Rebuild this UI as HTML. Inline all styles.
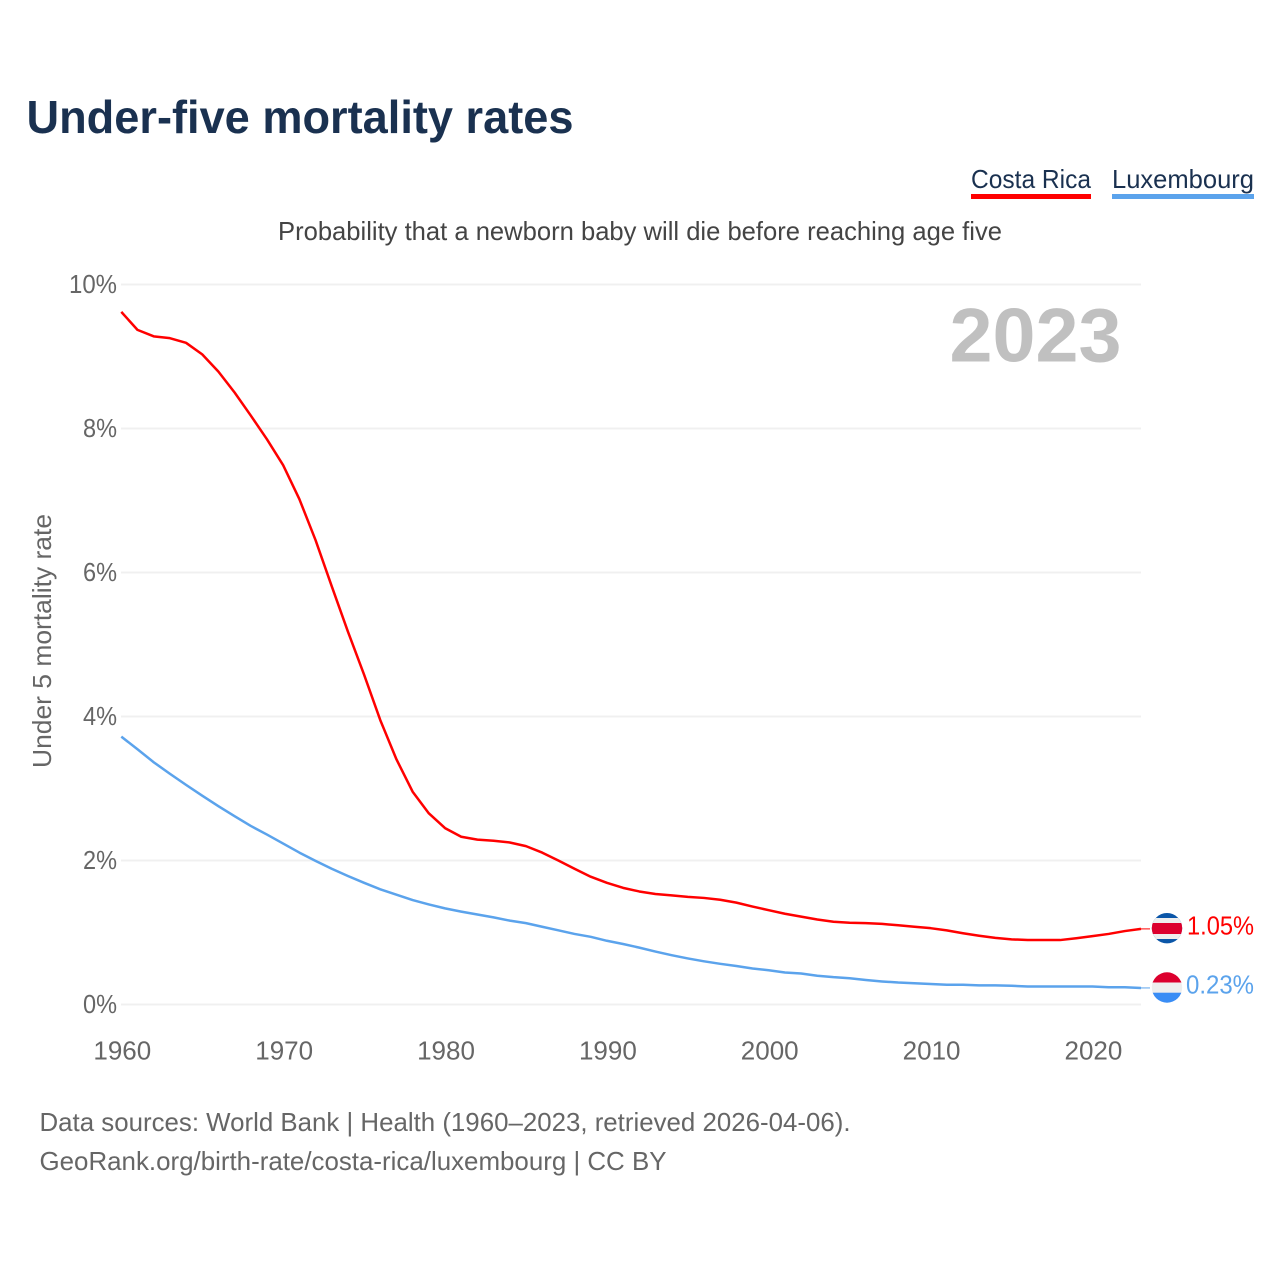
<!DOCTYPE html>
<html lang="en">
<head>
<meta charset="utf-8">
<title>Under-five mortality rates</title>
<style>
html,body{margin:0;padding:0;background:#fff;width:1280px;height:1280px;overflow:hidden}
svg{display:block}
text{font-family:"Liberation Sans",Arial,sans-serif}
</style>
</head>
<body>
<svg id="chart" xmlns="http://www.w3.org/2000/svg" width="1280" height="1280" viewBox="0 0 1280 1280">
  <rect x="0" y="0" width="1280" height="1280" fill="#ffffff"/>
  <text x="26.5" y="133" font-size="46" font-weight="700" fill="#1a3150" textLength="547" lengthAdjust="spacingAndGlyphs">Under-five mortality rates</text>
  <g>
    <text x="971" y="188" font-size="26" fill="#1a3150" textLength="120" lengthAdjust="spacingAndGlyphs">Costa Rica</text>
    <rect x="971" y="194" width="120" height="5" fill="#ff0000"/>
  </g>
  <g>
    <text x="1112" y="188" font-size="26" fill="#1a3150" textLength="142" lengthAdjust="spacingAndGlyphs">Luxembourg</text>
    <rect x="1112" y="194" width="142" height="5" fill="#5ba3ec"/>
  </g>
  <text x="278" y="240" font-size="26" fill="#444444" textLength="724" lengthAdjust="spacingAndGlyphs">Probability that a newborn baby will die before reaching age five</text>
  <text transform="translate(51 641) rotate(-90)" text-anchor="middle" font-size="26" fill="#666666" textLength="254" lengthAdjust="spacingAndGlyphs">Under 5 mortality rate</text>
  <g id="grid"></g>
  <g id="yticks"></g>
  <g id="xticks"></g>
  <text x="1121.5" y="361.5" text-anchor="end" font-size="76" font-weight="700" fill="#c0c0c0" textLength="172" lengthAdjust="spacingAndGlyphs">2023</text>
  <g id="series"></g>
  <clipPath id="cr-clip"><circle cx="1167" cy="928.2" r="15.2"/></clipPath>
  <clipPath id="lu-clip"><circle cx="1167" cy="987.5" r="15.2"/></clipPath>
  <g clip-path="url(#cr-clip)">
    <rect x="1150" y="912" width="34" height="33" fill="#0b56a8"/>
    <rect x="1150" y="918" width="34" height="21" fill="#eeeeee"/>
    <rect x="1150" y="923" width="34" height="11" fill="#dc002e"/>
  </g>
  <g clip-path="url(#lu-clip)">
    <rect x="1150" y="971" width="34" height="12" fill="#dc002e"/>
    <rect x="1150" y="982.5" width="34" height="10.5" fill="#eeeeee"/>
    <rect x="1150" y="992.7" width="34" height="12" fill="#3a8df5"/>
  </g>
  <text x="1187" y="934.5" font-size="26" fill="#ff0000" textLength="67" lengthAdjust="spacingAndGlyphs">1.05%</text>
  <text x="1186" y="993.5" font-size="26" fill="#5ba3ec" textLength="68" lengthAdjust="spacingAndGlyphs">0.23%</text>
  <text x="39.5" y="1131" font-size="26" fill="#666666" textLength="811" lengthAdjust="spacingAndGlyphs">Data sources: World Bank | Health (1960–2023, retrieved 2026-04-06).</text>
  <text x="39.5" y="1170" font-size="26" fill="#666666" textLength="627" lengthAdjust="spacingAndGlyphs">GeoRank.org/birth-rate/costa-rica/luxembourg | CC BY</text>
</svg>
<script>
var startYear = 1960;
var endYear = 2023;
var yTickValues = [0, 2, 4, 6, 8, 10];
var yTickLabels = ["0%", "2%", "4%", "6%", "8%", "10%"];
var xTickYears = [1960, 1970, 1980, 1990, 2000, 2010, 2020];
var xTickLabels = ["1960", "1970", "1980", "1990", "2000", "2010", "2020"];
var costaRicaValues = [
  9.62, 9.37, 9.28, 9.255, 9.19, 9.03, 8.79, 8.5, 8.18, 7.85,
  7.49, 7.02, 6.45, 5.81, 5.18, 4.58, 3.95, 3.405, 2.955, 2.655,
  2.45, 2.33, 2.29, 2.275, 2.25, 2.2, 2.11, 2.0, 1.885, 1.775,
  1.69, 1.62, 1.57, 1.535, 1.515, 1.495, 1.48, 1.455, 1.415, 1.36,
  1.31, 1.26, 1.22, 1.18, 1.15, 1.135, 1.13, 1.12, 1.1, 1.08,
  1.06, 1.03, 0.99, 0.955, 0.925, 0.905, 0.895, 0.895, 0.895, 0.92,
  0.95, 0.98, 1.02, 1.05
];
var luxembourgValues = [
  3.72, 3.545, 3.365, 3.205, 3.05, 2.9, 2.755, 2.615, 2.48, 2.36,
  2.235, 2.11, 1.995, 1.885, 1.785, 1.69, 1.6, 1.525, 1.45, 1.39,
  1.335, 1.29, 1.25, 1.21, 1.165, 1.13, 1.08, 1.03, 0.98, 0.94,
  0.885, 0.84, 0.79, 0.735, 0.685, 0.64, 0.6, 0.565, 0.535, 0.5,
  0.475, 0.445, 0.43, 0.4, 0.38, 0.365, 0.34, 0.32, 0.305, 0.295,
  0.285, 0.275, 0.275, 0.265, 0.265, 0.26, 0.25, 0.25, 0.25, 0.25,
  0.25, 0.24, 0.24, 0.23
];

var NS = 'http://www.w3.org/2000/svg';
function xScale(year) { return 121.3 + (year - startYear) * (1141 - 121.3) / (endYear - startYear); }
function yScale(value) { return 1004.5 - value * 72; }

var grid = document.getElementById('grid');
var yticks = document.getElementById('yticks');
var xticks = document.getElementById('xticks');
var seriesGroup = document.getElementById('series');

yTickValues.forEach(function (v, i) {
  var line = document.createElementNS(NS, 'line');
  
  
  line.setAttribute('x1', 121);
  line.setAttribute('x2', 1141);
  line.setAttribute('y1', yScale(v));
  line.setAttribute('y2', yScale(v));
  line.setAttribute('stroke', '#f0f0f0');
  line.setAttribute('stroke-width', 2);
  grid.appendChild(line);

  var label = document.createElementNS(NS, 'text');
  
  
  label.setAttribute('x', 117);
  label.setAttribute('y', yScale(v) + 8.5);
  label.setAttribute('text-anchor', 'end');
  label.setAttribute('font-size', 26);
  label.setAttribute('fill', '#666666');
  label.setAttribute('textLength', yTickLabels[i].length === 3 ? 48 : 34);
  label.setAttribute('lengthAdjust', 'spacingAndGlyphs');
  label.textContent = yTickLabels[i];
  yticks.appendChild(label);
});

xTickYears.forEach(function (year, i) {
  var label = document.createElementNS(NS, 'text');
  
  
  label.setAttribute('x', xScale(year) + 1);
  label.setAttribute('y', 1059.5);
  label.setAttribute('text-anchor', 'middle');
  label.setAttribute('font-size', 26);
  label.setAttribute('fill', '#666666');
  label.textContent = xTickLabels[i];
  xticks.appendChild(label);
});

function linePath(values) {
  return values.map(function (v, i) {
    return (i ? 'L' : 'M') + xScale(startYear + i).toFixed(2) + ' ' + yScale(v).toFixed(2);
  }).join(' ');
}

function lastPoint(values) {
  return yScale(values[values.length - 1]);
}

var crConnector = document.createElementNS(NS, 'line');


crConnector.setAttribute('x1', xScale(endYear));
crConnector.setAttribute('x2', 1150);
crConnector.setAttribute('y1', lastPoint(costaRicaValues));
crConnector.setAttribute('y2', lastPoint(costaRicaValues));
crConnector.setAttribute('stroke', '#ff0000');
crConnector.setAttribute('stroke-width', 1);
seriesGroup.appendChild(crConnector);

var luConnector = document.createElementNS(NS, 'line');


luConnector.setAttribute('x1', xScale(endYear));
luConnector.setAttribute('x2', 1150);
luConnector.setAttribute('y1', lastPoint(luxembourgValues));
luConnector.setAttribute('y2', lastPoint(luxembourgValues));
luConnector.setAttribute('stroke', '#5ba3ec');
luConnector.setAttribute('stroke-width', 1);
seriesGroup.appendChild(luConnector);

var luLine = document.createElementNS(NS, 'path');


luLine.setAttribute('d', linePath(luxembourgValues));
luLine.setAttribute('fill', 'none');
luLine.setAttribute('stroke', '#5ba3ec');
luLine.setAttribute('stroke-width', 2.5);
luLine.setAttribute('stroke-linejoin', 'round');
seriesGroup.appendChild(luLine);

var crLine = document.createElementNS(NS, 'path');


crLine.setAttribute('d', linePath(costaRicaValues));
crLine.setAttribute('fill', 'none');
crLine.setAttribute('stroke', '#ff0000');
crLine.setAttribute('stroke-width', 2.5);
crLine.setAttribute('stroke-linejoin', 'round');
seriesGroup.appendChild(crLine);
</script>
</body>
</html>
